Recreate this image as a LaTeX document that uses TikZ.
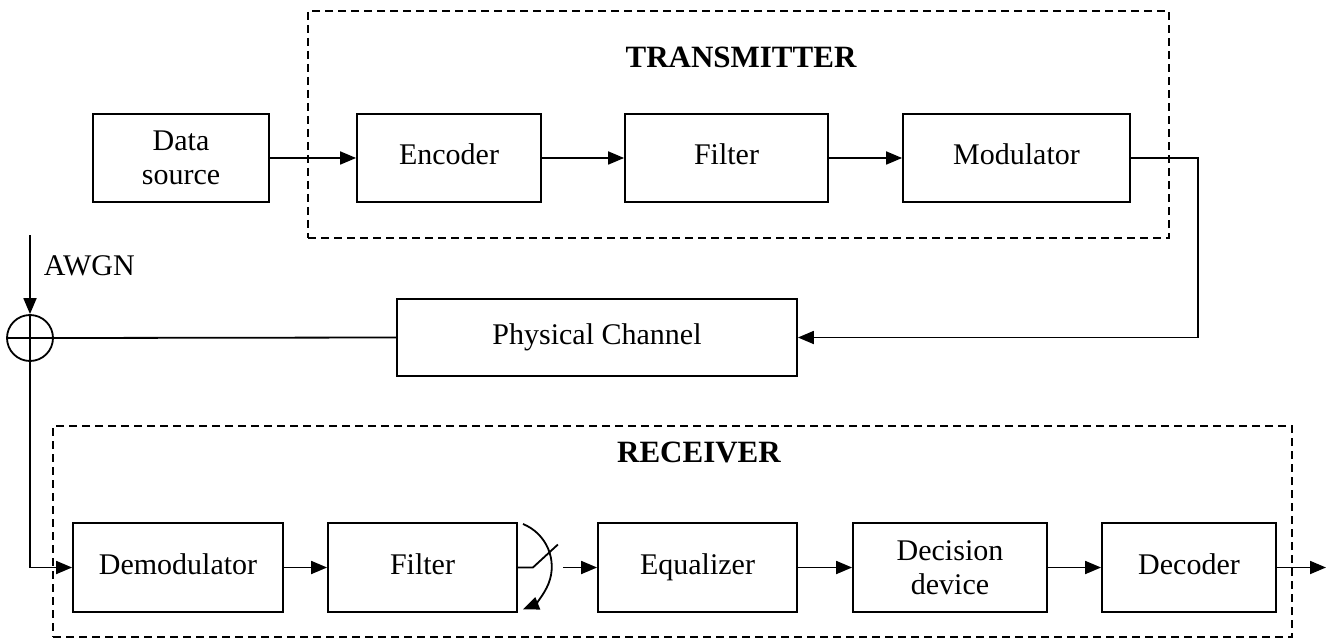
\documentclass[tikz,border=0pt]{standalone}
\usepackage{fontspec}
\setmainfont{Liberation Serif}
\usetikzlibrary{arrows.meta}
\begin{document}
\begin{tikzpicture}[x=1pt,y=-1pt, line width=1.8pt,
  blk/.style={draw, minimum height=88pt, inner sep=0pt, align=center, font=\fontsize{30}{34.5}\selectfont},
  arr/.style={-{Triangle[length=16pt,width=13pt]}},
  grp/.style={draw, dash pattern=on 8pt off 5pt, inner sep=0pt},
  ttl/.style={font=\fontsize{31}{36}\selectfont\bfseries, anchor=base, inner sep=0pt}]
\useasboundingbox (0,0) rectangle (1335,639);
% group frames
\node[grp, minimum width=861pt, minimum height=227pt] (tx) at (738.5,124.5) {};
\node[grp, minimum width=1239pt, minimum height=211pt] (rx) at (672.5,531.5) {};
\node[ttl] (txl) at (741,68) {TRANSMITTER};
\node[ttl] (rxl) at (699,462) {RECEIVER};
% top row
\node[blk, minimum width=176pt] (ds) at (181,158) {Data\\source};
\node[blk, minimum width=184pt] (enc) at (449,158) {\strut Encoder};
\node[blk, minimum width=203pt] (f1) at (726.5,158) {\strut Filter};
\node[blk, minimum width=227pt] (mod) at (1016.5,158) {\strut Modulator};
% channel
\node[blk, minimum width=400pt, minimum height=77pt] (ph) at (597,337.5) {\strut Physical Channel};
\node[circle, draw, minimum size=46pt, inner sep=0pt] (sum) at (30,338) {};
\draw (sum.north) -- (sum.south) (sum.west) -- (sum.east);
\node[anchor=base west, inner sep=0pt, font=\fontsize{30}{34.5}\selectfont] (awl) at (43,275) {AWGN};
% bottom row
\node[blk, minimum width=210pt, minimum height=89pt] (dm) at (178,567.5) {\strut Demodulator};
\node[blk, minimum width=189pt, minimum height=89pt] (f2) at (422.5,567.5) {\strut Filter};
\node[blk, minimum width=199pt, minimum height=89pt] (eq) at (697.5,567.5) {\strut Equalizer};
\node[blk, minimum width=194pt, minimum height=89pt] (dd) at (950,567.5) {Decision\\device};
\node[blk, minimum width=174pt, minimum height=89pt] (dc) at (1189,567.5) {\strut Decoder};
% connectors
\draw[arr] (ds.east) -- (enc.west);
\draw[arr] (enc.east) -- (f1.west);
\draw[arr] (f1.east) -- (mod.west);
\coordinate (c1) at (1198,158);
\draw[arr] (mod.east) -- (c1) |- (ph.east);
\draw (ph.west) -- (sum.east);
\coordinate (awgn) at (30,235);
\draw[arr] (awgn) -- (sum.north);
\draw[arr] (sum.south) |- (dm.west);
\draw[arr] (dm.east) -- (f2.west);
% sampler switch
\draw (f2.east) -- ++(15,0) -- ++(25,-23);
\coordinate (a0) at (523,524);
\draw[arr] (a0) arc[start angle=68, end angle=-68, radius=46pt];
\coordinate (sw) at (563,567.5);
\draw[arr] (sw) -- (eq.west);
\draw[arr] (eq.east) -- (dd.west);
\draw[arr] (dd.east) -- (dc.west);
\coordinate (out) at (1326,567.5);
\draw[arr] (dc.east) -- (out);
\end{tikzpicture}
\end{document}
